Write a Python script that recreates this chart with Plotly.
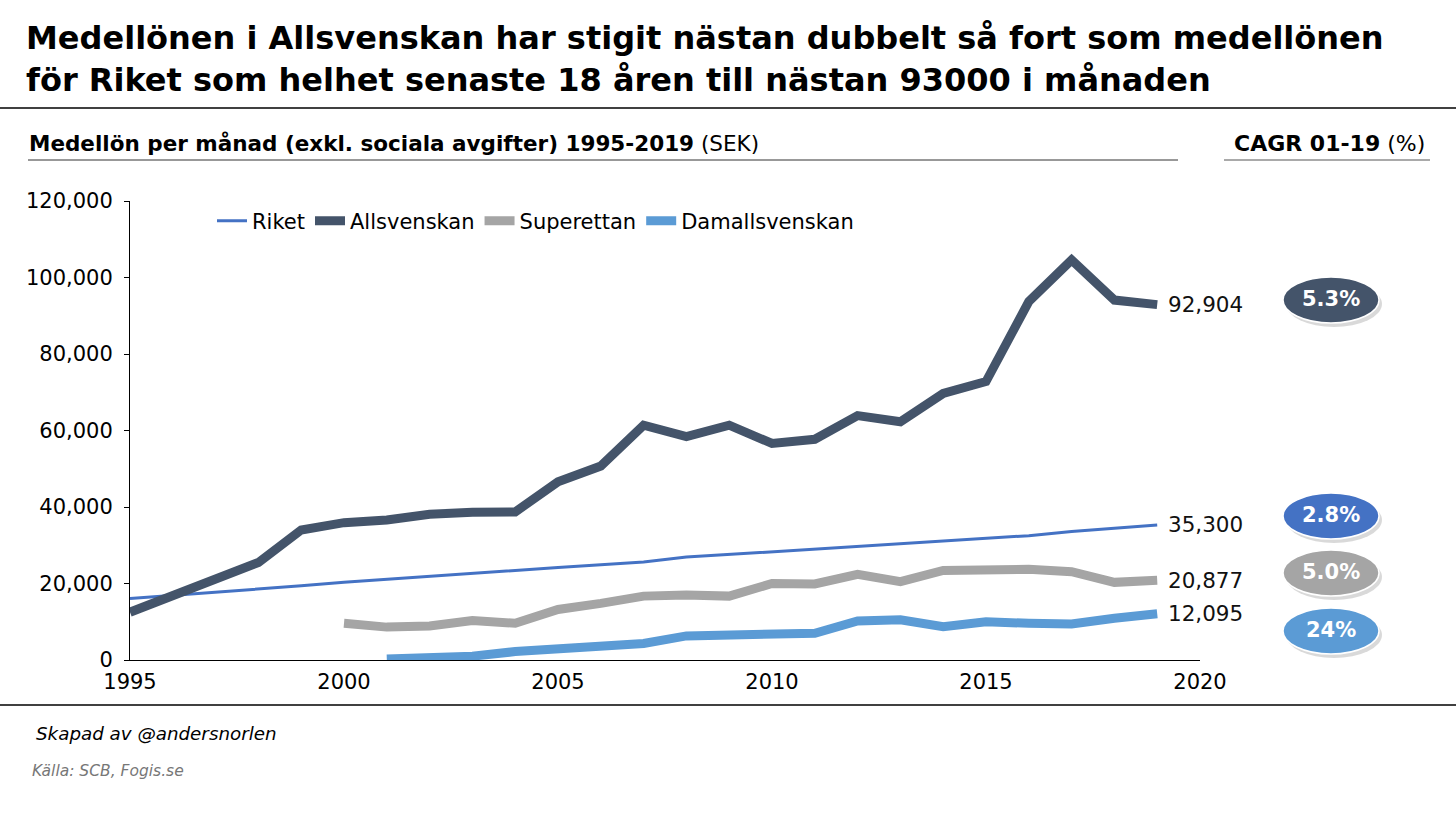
import plotly.graph_objects as go

years = list(range(1995, 2020))
riket = [16100, 16900, 17700, 18500, 19400, 20300, 21100, 21900, 22600, 23400,
         24200, 24900, 25600, 26900, 27600, 28200, 28900, 29600, 30400, 31100,
         31800, 32500, 33600, 34500, 35300]
allsvenskan = [12500, 17000, 20900, 25500, 34000, 35900, 36600, 38100, 38600, 38700,
               46600, 50700, 61400, 58400, 61400, 56600, 57700, 63900, 62300, 69700,
               72800, 93700, 104600, 94100, 92904]
superettan_years = list(range(2000, 2020))
superettan = [9600, 8600, 8900, 10300, 9600, 13200, 14800, 16700, 17000, 16700,
              20000, 19900, 22400, 20500, 23400, 23400, 23700, 23100, 20300, 20877]
dam_years = list(range(2001, 2020))
damallsvenskan = [250, 600, 1000, 2200, 2800, 3900, 4300, 6300, 6500, 6500,
                  7000, 10200, 10500, 8700, 10000, 9600, 9400, 10900, 12095]

series_names = ["Riket", "Allsvenskan", "Superettan", "Damallsvenskan"]
colors = ["#4472C4", "#44546A", "#A5A5A5", "#5B9BD5"]
widths = [3, 9, 9, 9]
end_labels = ["35,300", "92,904", "20,877", "12,095"]
cagr_labels = ["2.8%", "5.3%", "5.0%", "24%"]
cagr_y_px = [516, 300, 573, 631]

x_ticks = [1995, 2000, 2005, 2010, 2015, 2020]
y_ticks = [0, 20000, 40000, 60000, 80000, 100000, 120000]

title_text = ("Medellönen i Allsvenskan har stigit nästan dubbelt så fort som medellönen<br>"
              "för Riket som helhet senaste 18 åren till nästan 93000 i månaden")

W, H = 1456, 820
L, R, T, B = 130, 1200, 201, 660
FONT = "DejaVu Sans"


def px(x):
    return (x - L) / (R - L)


def py(y):
    return (B - y) / (B - T)


xs = [years, years, superettan_years, dam_years]
ys = [riket, allsvenskan, superettan, damallsvenskan]

fig = go.Figure()
for name, x, y, c, w in zip(series_names, xs, ys, colors, widths):
    fig.add_trace(go.Scatter(x=x, y=y, name=name, mode="lines",
                             line=dict(color=c, width=w), hoverinfo="skip"))

annotations = []
for x, y, lab in zip(xs, ys, end_labels):
    annotations.append(dict(x=x[-1], y=y[-1], xref="x", yref="y", text=lab,
                            showarrow=False, xanchor="left", xshift=9,
                            font=dict(family=FONT, size=21.5, color="#111111")))

# Title
annotations.append(dict(x=px(24), y=py(17), xref="paper", yref="paper",
                        text="<b>" + title_text + "</b>",
                        showarrow=False, xanchor="left", yanchor="top", align="left",
                        font=dict(family=FONT, size=32, color="#000000")))
annotations.append(dict(x=px(27), y=py(143), xref="paper", yref="paper",
                        text="<b>Medellön per månad (exkl. sociala avgifter) 1995-2019</b> (SEK)",
                        showarrow=False, xanchor="left", yanchor="middle",
                        font=dict(family=FONT, size=21.5, color="#000000")))
annotations.append(dict(x=px(1427), y=py(143), xref="paper", yref="paper",
                        text="<b>CAGR 01-19</b> (%)",
                        showarrow=False, xanchor="right", yanchor="middle",
                        font=dict(family=FONT, size=22, color="#000000")))
annotations.append(dict(x=px(34), y=py(733), xref="paper", yref="paper",
                        text="<i>Skapad av @andersnorlen</i>",
                        showarrow=False, xanchor="left", yanchor="middle",
                        font=dict(family=FONT, size=18.3, color="#000000")))
annotations.append(dict(x=px(30), y=py(771), xref="paper", yref="paper",
                        text="<i>Källa: SCB, Fogis.se</i>",
                        showarrow=False, xanchor="left", yanchor="middle",
                        font=dict(family=FONT, size=15.5, color="#777777")))

shapes = [
    dict(type="line", xref="paper", yref="paper", x0=px(0), x1=px(W), y0=py(108), y1=py(108),
         line=dict(color="#000000", width=1.5)),
    dict(type="line", xref="paper", yref="paper", x0=px(28), x1=px(1178), y0=py(160), y1=py(160),
         line=dict(color="#333333", width=1)),
    dict(type="line", xref="paper", yref="paper", x0=px(1224), x1=px(1430), y0=py(160), y1=py(160),
         line=dict(color="#555555", width=1)),
    dict(type="line", xref="paper", yref="paper", x0=px(0), x1=px(W), y0=py(705), y1=py(705),
         line=dict(color="#000000", width=1.5)),
]

cx, rw, rh = 1331, 48, 23
for lab, cy, c in zip(cagr_labels, cagr_y_px, colors):
    shapes.append(dict(type="circle", xref="paper", yref="paper",
                       x0=px(cx - rw + 3), x1=px(cx + rw + 3), y0=py(cy - rh + 4), y1=py(cy + rh + 4),
                       fillcolor="rgba(0,0,0,0.15)", line=dict(width=0), layer="above"))
    shapes.append(dict(type="circle", xref="paper", yref="paper",
                       x0=px(cx - rw), x1=px(cx + rw), y0=py(cy - rh), y1=py(cy + rh),
                       fillcolor=c, line=dict(color="#FFFFFF", width=1.5), layer="above"))
    annotations.append(dict(x=px(cx), y=py(cy - 1), xref="paper", yref="paper",
                            text="<b>" + lab + "</b>", showarrow=False,
                            xanchor="center", yanchor="middle",
                            font=dict(family=FONT, size=21, color="#FFFFFF")))

fig.update_layout(
    width=W, height=H,
    margin=dict(l=L, r=W - R, t=T, b=H - B),
    paper_bgcolor="#FFFFFF", plot_bgcolor="#FFFFFF",
    font=dict(family=FONT, size=18, color="#000000"),
    showlegend=True,
    legend=dict(orientation="h", x=px(212), y=py(221), xanchor="left", yanchor="middle",
                font=dict(family=FONT, size=21, color="#000000"),
                bgcolor="rgba(0,0,0,0)", itemwidth=30, tracegroupgap=0),
    xaxis=dict(range=[1995, 2020], tickvals=x_ticks, ticktext=[str(t) for t in x_ticks],
               showgrid=False, zeroline=False, showline=True, linecolor="#000000", linewidth=1,
               ticks="", tickfont=dict(family=FONT, size=21), ticklabelstandoff=3),
    yaxis=dict(range=[0, 120000], tickvals=y_ticks, tickformat=",",
               showgrid=False, zeroline=False, showline=True, linecolor="#000000", linewidth=1,
               ticks="outside", ticklen=5, tickcolor="#000000", ticklabelstandoff=7,
               tickfont=dict(family=FONT, size=21)),
    annotations=annotations,
    shapes=shapes,
)

fig.write_html("out.html", config={"displayModeBar": False},
               post_script="document.body.style.margin='0';")
